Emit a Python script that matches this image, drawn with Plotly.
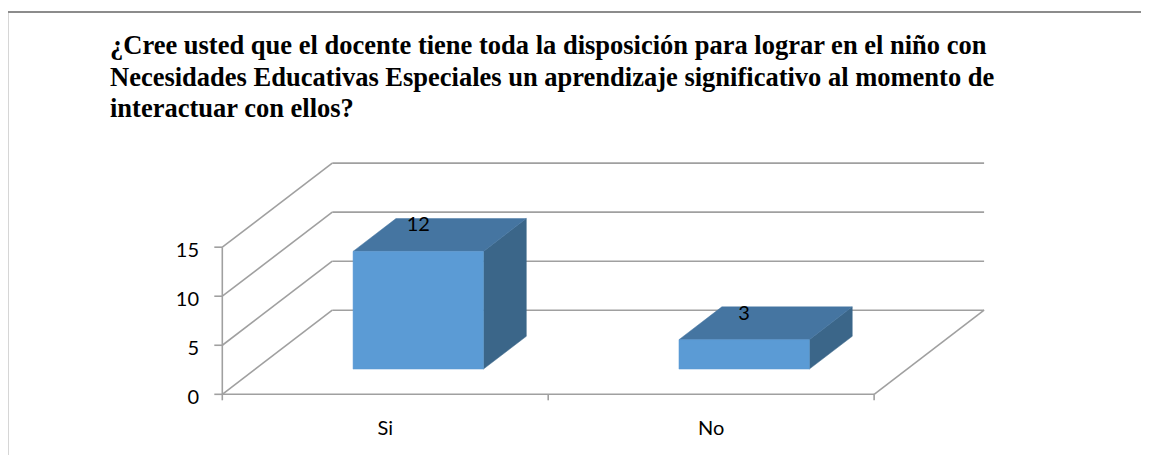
import plotly.graph_objects as go

# ---------------- data ----------------
categories = ["Si", "No"]
values = [12, 3]
y_ticks = [0, 5, 10, 15]
title_lines = [
    "¿Cree usted que el docente tiene toda la disposición para lograr en el niño con",
    "Necesidades Educativas Especiales un aprendizaje significativo al momento de",
    "interactuar con ellos?",
]

# ---------------- layout constants ----------------
OFF = 8                 # default page body margin of the browser
W, H = 1149 - OFF, 455 - OFF
PX_CAT = 326.0          # pixels per category
PX_VAL = 9.8            # pixels per value unit
AXIS_LEFT_PX = 222 - OFF  # pixel x of the front y-axis
ZERO_PX = 394 - OFF       # pixel y of value 0 (front)
X_MIN, X_MAX = -0.05, 2.42
Y_MIN, Y_MAX = -1.6, 24.5
DEPTH_X = 110 / PX_CAT  # oblique depth offset (category units)
DEPTH_Y = 84 / PX_VAL   # oblique depth offset (value units)
BAR_W = 0.4
D_FRONT, D_BACK = 0.30, 0.69
LABEL_OFF = 25 / PX_VAL
TICK_LEN_X = 8 / PX_CAT
TICK_LEN_Y = 6 / PX_VAL

ml = AXIS_LEFT_PX + X_MIN * PX_CAT
plot_w = (X_MAX - X_MIN) * PX_CAT
mr = W - ml - plot_w
mt = ZERO_PX - Y_MAX * PX_VAL
plot_h = (Y_MAX - Y_MIN) * PX_VAL
mb = H - mt - plot_h

GRID = "#A0A0A0"
FRONT = "#5B9BD5"
TOP = "#4575A1"
SIDE = "#3B6689"
FONT = "Lato"
TITLE_FONT = "Liberation Serif, Times New Roman, DejaVu Serif, serif"
TITLE_SIZE = 26.5
TITLE_X_PX = 108
TITLE_LINE_Y_PX = [45, 77, 108]   # vertical centre of each title line


def proj(c, v, d):
    return c + d * DEPTH_X, v + d * DEPTH_Y


n = len(categories)
vmax = max(y_ticks)

# ---------------- frame (walls, floor, gridlines) ----------------
fx, fy = [], []


def seg(p, q):
    fx.extend([p[0], q[0], None])
    fy.extend([p[1], q[1], None])


for v in y_ticks:
    seg(proj(0, v, 1), proj(n, v, 1))          # back wall gridline
    seg(proj(0, v, 0), proj(0, v, 1))          # side wall gridline
    seg(proj(0, v, 0), (-TICK_LEN_X, v))       # y tick mark
seg(proj(0, 0, 0), proj(0, vmax, 0))           # front y-axis line
seg(proj(0, 0, 0), proj(n, 0, 0))              # floor front edge
seg(proj(n, 0, 0), proj(n, 0, 1))              # floor right edge
for c in range(n + 1):
    seg(proj(c, 0, 0), (c, -TICK_LEN_Y))       # category tick marks

fig = go.Figure()
fig.add_trace(go.Scatter(x=fx, y=fy, mode="lines",
                         line=dict(color=GRID, width=1.6),
                         hoverinfo="skip", showlegend=False))

# ---------------- 3D bars ----------------
for i, (cat, v) in enumerate(zip(categories, values)):
    c = i + 0.5
    x0, x1 = c - BAR_W / 2, c + BAR_W / 2
    faces = [
        ([(x1, 0, D_FRONT), (x1, 0, D_BACK), (x1, v, D_BACK), (x1, v, D_FRONT)], SIDE),
        ([(x0, v, D_FRONT), (x1, v, D_FRONT), (x1, v, D_BACK), (x0, v, D_BACK)], TOP),
        ([(x0, 0, D_FRONT), (x1, 0, D_FRONT), (x1, v, D_FRONT), (x0, v, D_FRONT)], FRONT),
    ]
    for pts, col in faces:
        pp = [proj(*p) for p in pts]
        pp.append(pp[0])
        fig.add_trace(go.Scatter(
            x=[p[0] for p in pp], y=[p[1] for p in pp], mode="lines",
            fill="toself", fillcolor=col, line=dict(color=col, width=0.5),
            hoverinfo="skip", showlegend=False))
    lx, ly = proj(c, v, D_FRONT)
    fig.add_trace(go.Scatter(
        x=[lx], y=[ly + LABEL_OFF], mode="text", text=[str(v)],
        textposition="middle center",
        textfont=dict(family=FONT, size=20, color="#000000"),
        hoverinfo="skip", showlegend=False))


def px_to_paper(px, py):
    return (px - ml) / plot_w, 1 - (py - mt) / plot_h


# ---------------- title (one annotation per line) ----------------
for line, ypx in zip(title_lines, TITLE_LINE_Y_PX):
    ax, ay = px_to_paper(TITLE_X_PX - OFF, ypx - OFF)
    fig.add_annotation(text=line, xref="paper", yref="paper", x=ax, y=ay,
                       xanchor="left", yanchor="middle", showarrow=False,
                       font=dict(family=TITLE_FONT, size=TITLE_SIZE,
                                 color="#000000", weight="bold"))

# ---------------- border of chart area ----------------
bx0, by0 = px_to_paper(7 - OFF, H + 5)
bx1, by1 = px_to_paper(7 - OFF, 12 - OFF)
bx2, by2 = px_to_paper(W + 5, 12 - OFF)
for (a, b), (c2, d2) in [((bx0, by0), (bx1, by1)), ((bx1, by1), (bx2, by2))]:
    fig.add_shape(type="line", xref="paper", yref="paper",
                  x0=a, y0=b, x1=c2, y1=d2,
                  line=dict(color="#8C8C8C", width=2), layer="above")

fig.update_layout(
    width=W, height=H,
    margin=dict(l=ml, r=mr, t=mt, b=mb, pad=0),
    paper_bgcolor="white", plot_bgcolor="white",
    xaxis=dict(range=[X_MIN, X_MAX], tickvals=[i + 0.5 for i in range(n)],
               ticktext=categories, ticks="", showgrid=False, zeroline=False,
               showline=False, ticklabelstandoff=4,
               tickfont=dict(family=FONT, size=20, color="#000000")),
    yaxis=dict(range=[Y_MIN, Y_MAX], tickvals=y_ticks, ticks="",
               showgrid=False, zeroline=False, showline=False,
               ticklabelstandoff=6, ticklabelshift=3,
               tickfont=dict(family=FONT, size=20, color="#000000")),
    showlegend=False,
)

fig.write_html("out.html")
